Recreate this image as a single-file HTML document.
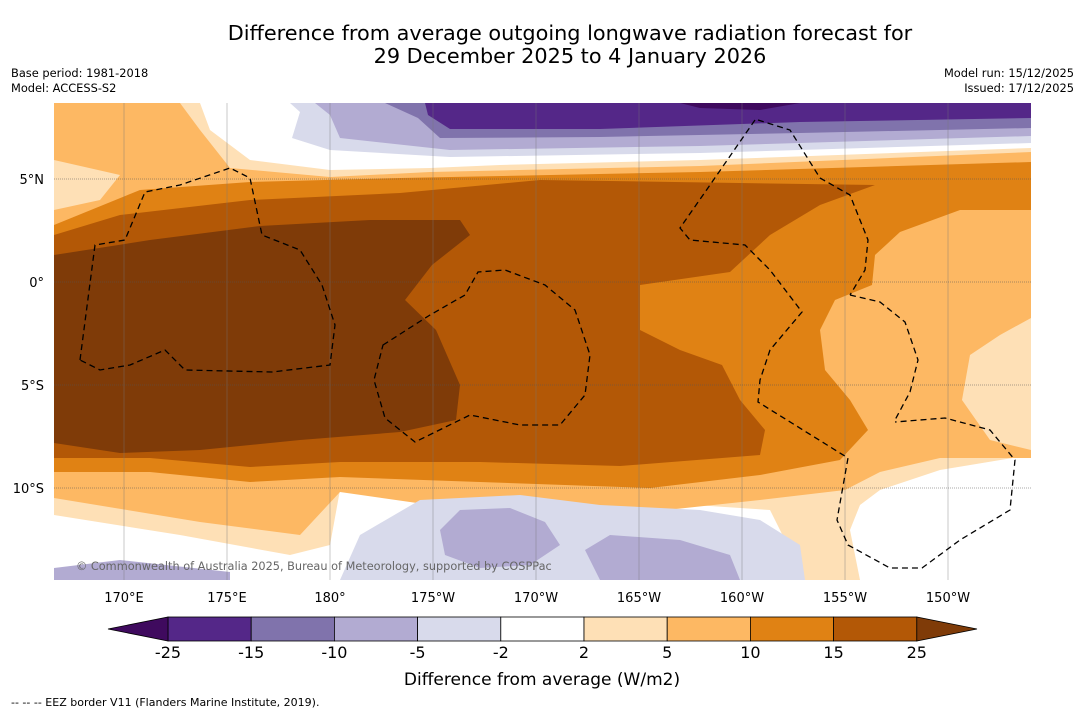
<!DOCTYPE html>
<html><head><meta charset="utf-8"><style>
body{margin:0;background:#fff;font-family:"Liberation Sans","DejaVu Sans",sans-serif;}
#root{position:relative;width:1085px;height:713px;overflow:hidden;background:#fff;}
.t{position:absolute;white-space:nowrap;color:#000;}
</style></head><body>
<div id="root">
<div class="t" style="left:0;width:1140px;text-align:center;top:22px;font-size:20.8px;line-height:23px;font-family:'DejaVu Sans',sans-serif;">Difference from average outgoing longwave radiation forecast for<br>29 December 2025 to 4 January 2026</div>
<div class="t" style="left:11px;top:66px;font-size:11.4px;font-family:'DejaVu Sans',sans-serif;line-height:15px;">Base period: 1981-2018<br>Model: ACCESS-S2</div>
<div class="t" style="right:11px;top:66px;font-size:11.4px;text-align:right;font-family:'DejaVu Sans',sans-serif;line-height:15px;">Model run: 15/12/2025<br>Issued: 17/12/2025</div>
<svg id="svg" width="1085" height="713" style="position:absolute;left:0;top:0">
<defs><clipPath id="mc"><rect x="54" y="103" width="977" height="477"/></clipPath></defs>
<g clip-path="url(#mc)">
<rect x="54" y="103" width="977" height="477" fill="#fff"/>
<polygon fill="#fee0b6" points="54,103 290,103 1031,103 1031,580 840,580 835,530 860,500 900,485 1031,490 1031,580 805,580 770,510 620,500 480,495 340,490 330,545 290,555 180,535 54,515"/>
<polygon fill="#fff" points="1031,455 940,470 880,490 860,505 850,530 860,580 1031,580"/>
<polygon fill="#fff" points="200,103 1031,103 1031,148 700,160 500,165 430,168 330,170 250,160 210,130"/>
<polygon fill="#fdb863" points="54,103 180,103 200,130 230,168 330,177 430,172 700,166 1031,152 1031,318 1000,335 970,355 962,400 990,440 1031,450 1031,458 940,458 880,472 845,490 760,500 620,515 480,512 340,492 300,535 200,522 54,498 54,210 100,200 120,175 54,160"/>
<polygon fill="#e08214" points="54,225 140,190 250,182 400,178 700,172 1031,162 1031,210 960,210 900,232 875,255 872,285 835,300 820,330 825,370 850,400 868,430 840,460 760,475 650,488 480,482 340,477 250,482 150,472 54,472"/>
<polygon fill="#b35806" points="54,235 120,215 250,200 400,193 540,180 875,185 820,205 770,235 730,272 640,285 640,330 680,350 722,365 740,400 765,430 760,455 620,466 480,462 340,462 250,467 150,458 54,458"/>
<polygon fill="#7f3b08" points="54,255 150,240 260,226 370,220 460,220 470,235 432,265 405,300 436,330 460,385 456,420 400,432 300,440 200,450 120,453 54,443"/>
<polygon fill="#d8daeb" points="290,103 1031,103 1031,143 700,153 450,157 330,150 292,138 300,112"/>
<polygon fill="#b2abd2" points="315,103 1031,103 1031,136 700,146 450,150 340,138 330,115"/>
<polygon fill="#8073ac" points="330,103 1031,103 1031,128 800,133 600,137 440,138 418,118 385,103"/>
<polygon fill="#542788" points="425,103 1031,103 1031,118 800,122 600,129 450,129 428,115"/>
<polygon fill="#3f0a5e" points="680,103 800,103 760,110 700,108"/>
<polygon fill="#d8daeb" points="340,580 360,535 420,500 520,495 600,505 700,510 760,520 800,545 805,580"/>
<polygon fill="#b2abd2" points="440,530 460,510 510,508 545,522 560,545 530,565 480,568 445,555"/>
<polygon fill="#b2abd2" points="585,550 610,535 680,540 730,555 740,580 600,580"/>
<polygon fill="#b2abd2" points="54,568 120,560 230,572 230,580 54,580"/>
<g id="grid"></g>
<g fill="none" stroke="#000" stroke-width="1.3" stroke-dasharray="6,4">
<path d="M80,360 L95,245 L125,240 L145,192 L180,185 L230,168 L250,178 L262,235 L300,250 L322,285 L335,325 L330,365 L272,372 L185,370 L165,350 L130,365 L100,370 L80,360"/>
<path d="M383,345 L430,315 L465,295 L478,272 L505,270 L545,285 L575,310 L590,355 L585,395 L560,425 L520,425 L470,415 L415,442 L385,418 L374,380 Z"/>
<path d="M758,120 L790,130 L820,178 L850,195 L868,240 L865,270 L850,295"/>
<path d="M755,120 L710,185 L680,228 L690,240 L745,245 L770,270 L802,312 L770,350 L760,380 L758,402 L848,458 L837,520 L848,545 L890,568 L922,568 L960,540 L1010,510 L1015,460 L990,430 L945,418 L895,422"/>
<path d="M850,295 L880,302 L905,322 L918,360 L910,392 L895,420"/>
</g>
</g>
<g id="ticks"></g>
<g id="cbar"></g>
<text x="76" y="570" font-size="11.3" fill="#666" font-family="DejaVu Sans, sans-serif">© Commonwealth of Australia 2025, Bureau of Meteorology, supported by COSPPac</text>
<text x="542" y="685" font-size="17" text-anchor="middle" font-family="DejaVu Sans, sans-serif">Difference from average (W/m2)</text>
<text x="11" y="706" font-size="11" font-family="DejaVu Sans, sans-serif">-- -- -- EEZ border V11 (Flanders Marine Institute, 2019).</text>
</svg>
</div>
<script>
const lonLabels=["170°E","175°E","180°","175°W","170°W","165°W","160°W","155°W","150°W"];
const lonValues=[170,175,180,185,190,195,200,205,210];
const latLabels=["5°N","0°","5°S","10°S"];
const latValues=[5,0,-5,-10];
const levels=[-25,-15,-10,-5,-2,2,5,10,15,25];
const colors=["#542788","#8073ac","#b2abd2","#d8daeb","#ffffff","#fee0b6","#fdb863","#e08214","#b35806"];
const NS="http://www.w3.org/2000/svg";
const xLon=l=>124+(l-170)*20.6;
const yLat=l=>282-l*20.6;
function mk(t,a,p){const e=document.createElementNS(NS,t);for(const k in a)e.setAttribute(k,a[k]);p.appendChild(e);return e;}
const grid=document.getElementById('grid'),ticks=document.getElementById('ticks');
lonValues.forEach((v,i)=>{const x=xLon(v);
const l=mk('line',{x1:x,x2:x,y1:103,y2:580,stroke:'#777','stroke-width':0.4},grid);

const t=mk('text',{x:x,y:602,'font-size':13,'text-anchor':'middle','font-family':'DejaVu Sans, sans-serif'},ticks);t.textContent=lonLabels[i];
});
latValues.forEach((v,i)=>{const y=yLat(v);
const l=mk('line',{x1:54,x2:1031,y1:y,y2:y,stroke:'#555','stroke-width':0.5,'stroke-dasharray':'1,1'},grid);

const t=mk('text',{x:44,y:y+5,'font-size':13,'text-anchor':'end','font-family':'DejaVu Sans, sans-serif'},ticks);t.textContent=latLabels[i];
});
const cb=document.getElementById('cbar');
const bx=i=>168+i*83.2, y0=617,h=24;
for(let i=0;i<colors.length;i++){const r=mk('rect',{x:bx(i),y:y0,width:83.2,height:h,fill:colors[i],stroke:'#000','stroke-width':0.8},cb);
}
const lt=mk('polygon',{points:`108,${y0+h/2} ${bx(0)},${y0} ${bx(0)},${y0+h}`,fill:'#3f0a5e',stroke:'#000','stroke-width':0.8},cb);

const rt=mk('polygon',{points:`977,${y0+h/2} ${bx(9)},${y0} ${bx(9)},${y0+h}`,fill:'#7f3b08',stroke:'#000','stroke-width':0.8},cb);

levels.forEach((v,i)=>{const t=mk('text',{x:bx(i),y:658,'font-size':16,'text-anchor':'middle','font-family':'DejaVu Sans, sans-serif'},cb);t.textContent=v;
});
</script>
</body></html>
